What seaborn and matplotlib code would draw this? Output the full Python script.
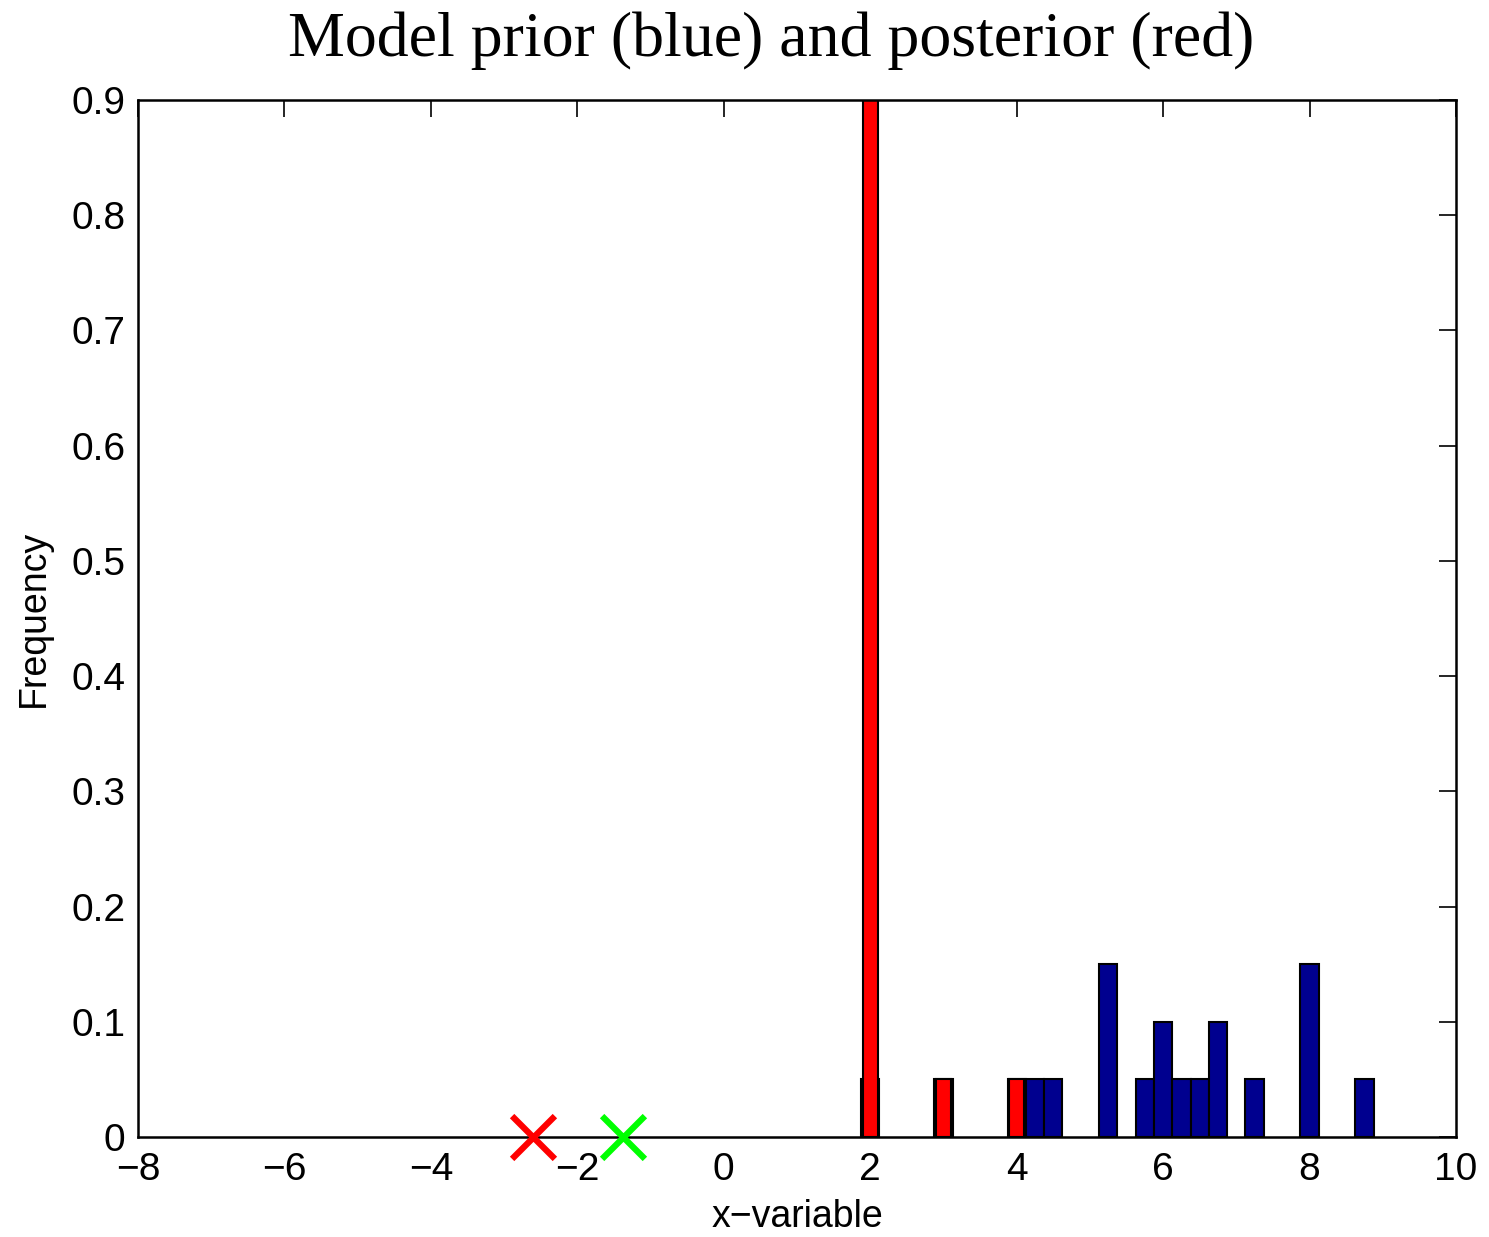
import numpy as np
import pandas as pd
import matplotlib
matplotlib.use("Agg")
import matplotlib.pyplot as plt
import seaborn as sns

# Prior (blue) histogram: bin centres and relative frequencies
prior_centers = [2.0, 3.0, 4.0, 4.25, 4.5, 5.25, 5.75, 6.0, 6.25, 6.5, 6.75, 7.25, 8.0, 8.75]
prior_freq = [0.05, 0.05, 0.05, 0.05, 0.05, 0.15, 0.05, 0.10, 0.05, 0.05, 0.10, 0.05, 0.15, 0.05]

# Posterior (red) histogram
post_centers = [2.0, 3.0, 4.0]
post_freq = [0.90, 0.05, 0.05]

# Markers on the x axis
red_marker_x = [-2.6]
green_marker_x = [-1.38]

x_ticks = [-8, -6, -4, -2, 0, 2, 4, 6, 8, 10]
y_ticks = [0, 0.1, 0.2, 0.3, 0.4, 0.5, 0.6, 0.7, 0.8, 0.9]

sns.set_style("white")
plt.rcParams['font.family'] = ['Liberation Sans', 'DejaVu Sans']
plt.rcParams['axes.unicode_minus'] = True
for k in ['text.color', 'axes.labelcolor', 'xtick.color', 'ytick.color']:
    plt.rcParams[k] = 'black'

fig = plt.figure(figsize=(14.89, 12.37), dpi=100)
ax = fig.add_axes([138/1489, 1 - 1137/1237, (1456-138)/1489, (1137-100)/1237])

prior_df = pd.DataFrame({"x": prior_centers, "w": prior_freq})
post_df = pd.DataFrame({"x": post_centers, "w": post_freq})

prior_w = 0.25
prior_bins = [float(b) for b in np.arange(min(prior_centers) - prior_w/2,
                                          max(prior_centers) + prior_w, prior_w)]
sns.histplot(data=prior_df, x="x", weights="w", bins=prior_bins, ax=ax,
             color="#00008F", alpha=1, edgecolor="black", linewidth=1.5, stat="count")

post_w = 0.2
post_edges = []
for c in post_centers:
    post_edges += [c - post_w/2, c + post_w/2]
sns.histplot(data=post_df, x="x", weights="w", bins=post_edges, ax=ax,
             color="#FF0000", alpha=1, edgecolor="black", linewidth=1.5, stat="count")
# remove zero-height gap bars
for p in list(ax.patches):
    if p.get_height() == 0:
        p.remove()

sns.scatterplot(x=red_marker_x, y=[0]*len(red_marker_x), ax=ax, marker="x", s=950,
                color="#FF0000", linewidth=4.5, zorder=5, clip_on=False)
sns.scatterplot(x=green_marker_x, y=[0]*len(green_marker_x), ax=ax, marker="x", s=950,
                color="#00FF00", linewidth=4.5, zorder=5, clip_on=False)

ax.set_xlim(-8, 10)
ax.set_ylim(0, 0.9)
ax.set_xticks(x_ticks)
ax.set_yticks(y_ticks)
ax.set_xticklabels([f"{t}".replace("-", "\u2212") for t in x_ticks])
ax.set_yticklabels(["0"] + [f"{t:.1f}" for t in y_ticks[1:]])
ax.tick_params(direction="in", length=12, width=1.2, top=True, right=True,
               labelsize=28, colors="black")
ax.tick_params(axis="x", pad=11)
ax.tick_params(axis="y", pad=9)
for s in ax.spines.values():
    s.set_linewidth(1.8)
    s.set_color("black")
ax.set_xlabel("x\u2212variable", fontsize=27, labelpad=8)
ax.set_ylabel("Frequency", fontsize=27, labelpad=14)
ax.set_title("Model prior (blue) and posterior (red)", fontsize=46,
             family=["Liberation Serif", "DejaVu Serif"], pad=32, x=0.48)

fig.savefig("out.png", dpi=100)
